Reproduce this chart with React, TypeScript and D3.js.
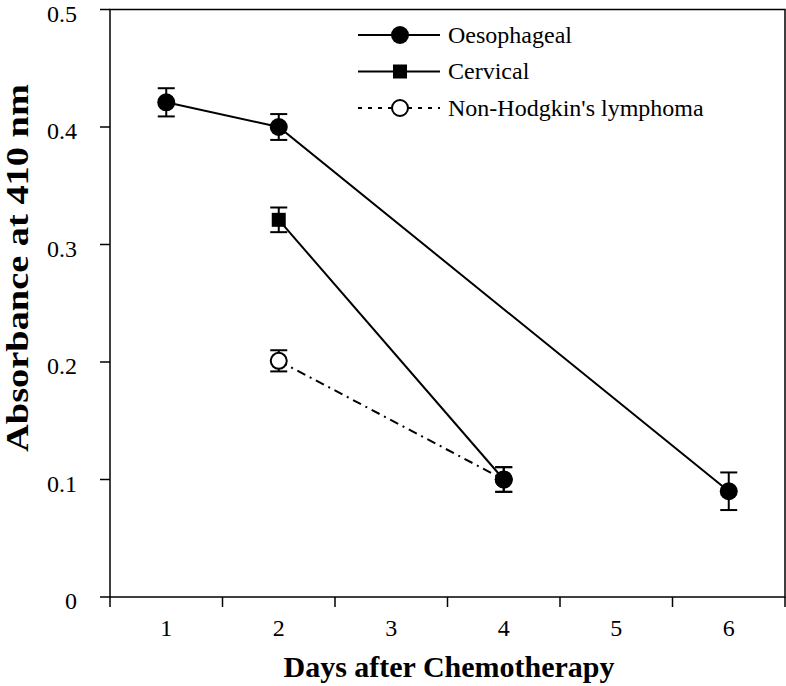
import React from "react";
import * as d3 from "d3";

const days = [1, 2, 3, 4, 5, 6];
const yTicks = [0, 0.1, 0.2, 0.3, 0.4, 0.5];

const oesoDays = [1, 2, 6];
const oesoValues = [0.421, 0.4, 0.09];
const oesoErrors = [0.012, 0.011, 0.016];

const cervDays = [2, 4];
const cervValues = [0.321, 0.1];
const cervErrors = [0.0105, 0.0105];
const cervShapes = ["square", "circle"];

const nhlDays = [2, 4];
const nhlValues = [0.201, 0.1];
const nhlErrors = [0.009, 0.0105];
const nhlShapes = ["open", "circle"];

const W = 786;
const H = 686;
const left = 110;
const right = 785;
const top = 9.5;
const bottom = 597;

const x = d3.scaleLinear().domain([0.5, 6.5]).range([left, right]);
const y = d3.scaleLinear().domain([0, 0.5]).range([bottom, top]);

type Pt = { d: number; v: number; e: number; s: string };

const mk = (ds: number[], vs: number[], es: number[], shapes: string | string[]): Pt[] =>
  ds.map((d, i) => ({ d, v: vs[i], e: es[i], s: Array.isArray(shapes) ? shapes[i] : shapes }));

const series = [
  { name: "Oesophageal", pts: mk(oesoDays, oesoValues, oesoErrors, "circle"), dash: "", legendShape: "circle", legendDash: "" },
  { name: "Cervical", pts: mk(cervDays, cervValues, cervErrors, cervShapes), dash: "", legendShape: "square", legendDash: "" },
  { name: "Non-Hodgkin's lymphoma", pts: mk(nhlDays, nhlValues, nhlErrors, nhlShapes), dash: "9,5,2,5", legendShape: "open", legendDash: "4,6" },
];

const line = d3
  .line<Pt>()
  .x((p) => x(p.d))
  .y((p) => y(p.v));

function Marker({ cx, cy, s }: { cx: number; cy: number; s: string }) {
  if (s === "square") return <rect x={cx - 7} y={cy - 7} width={14} height={14} fill="#000" />;
  if (s === "open") return <circle cx={cx} cy={cy} r={8} fill="#fff" stroke="#000" strokeWidth={2} />;
  return <circle cx={cx} cy={cy} r={9} fill="#000" />;
}

export default function App() {
  const serif = "'Liberation Serif', 'Times New Roman', serif";
  return (
    <svg width={W} height={H} style={{ position: "absolute", left: 0, top: 0, background: "#fff" }} fontFamily={serif}>
      <rect width={W} height={H} fill="#fff" />
      {/* frame */}
      <g stroke="#000" strokeWidth={1.5} fill="none">
        <rect x={left} y={top} width={right - left} height={bottom - top} />
        {yTicks.map((t) => (
          <line key={"yt" + t} x1={left - 10} x2={left} y1={y(t)} y2={y(t)} />
        ))}
        {d3.range(0.5, 7, 1).map((t) => (
          <line key={"xt" + t} x1={x(t)} x2={x(t)} y1={bottom} y2={bottom + 10} />
        ))}
      </g>
      {/* tick labels */}
      {yTicks.map((t) => (
        <text key={"yl" + t} x={77} y={y(t) + 12} textAnchor="end" fontSize={24}>
          {t === 0 ? "0" : t.toFixed(1)}
        </text>
      ))}
      {days.map((d) => (
        <text key={"xl" + d} x={x(d)} y={636} textAnchor="middle" fontSize={24}>
          {d}
        </text>
      ))}
      {/* axis titles */}
      <text x={449} y={677} textAnchor="middle" fontSize={30} fontWeight="bold">
        Days after Chemotherapy
      </text>
      <text transform={`translate(28,268) scale(1,1.2) rotate(-90)`} textAnchor="middle" fontSize={32} fontWeight="bold">
        Absorbance at 410 nm
      </text>
      {/* lines */}
      {series.map((s) => (
        <path key={"l" + s.name} d={line(s.pts) || ""} fill="none" stroke="#000" strokeWidth={2} strokeDasharray={s.dash || undefined} />
      ))}
      {/* error bars */}
      {series.map((s) =>
        s.pts.map((p, i) => (
          <g key={"e" + s.name + i} stroke="#000" strokeWidth={2}>
            <line x1={x(p.d)} x2={x(p.d)} y1={y(p.v - p.e)} y2={y(p.v + p.e)} />
            <line x1={x(p.d) - 8.5} x2={x(p.d) + 8.5} y1={y(p.v + p.e)} y2={y(p.v + p.e)} />
            <line x1={x(p.d) - 8.5} x2={x(p.d) + 8.5} y1={y(p.v - p.e)} y2={y(p.v - p.e)} />
          </g>
        ))
      )}
      {/* markers */}
      {series.map((s) =>
        s.pts.map((p, i) => <Marker key={"m" + s.name + i} cx={x(p.d)} cy={y(p.v)} s={p.s} />)
      )}
      {/* legend */}
      {series.map((s, i) => {
        const ly = 35 + i * 36.5;
        return (
          <g key={"lg" + s.name}>
            <line x1={358} x2={440} y1={ly} y2={ly} stroke="#000" strokeWidth={2} strokeDasharray={s.legendDash || undefined} />
            <Marker cx={400} cy={ly} s={s.legendShape} />
            <text x={448} y={ly} dy="0.33em" fontSize={24}>
              {s.name}
            </text>
          </g>
        );
      })}
    </svg>
  );
}
